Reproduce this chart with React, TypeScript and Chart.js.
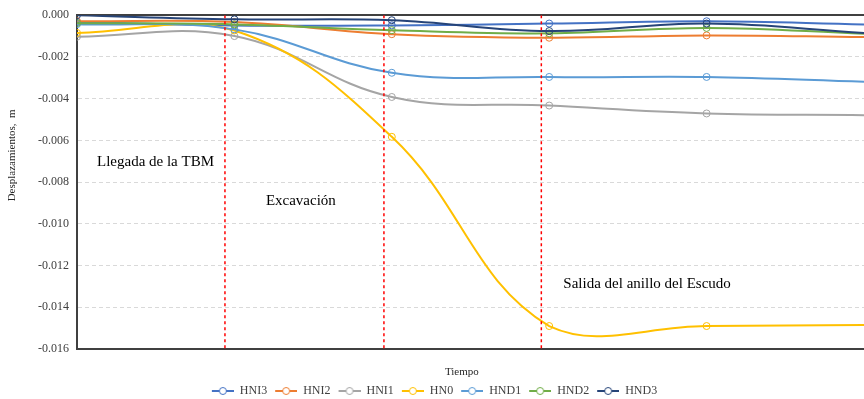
import React, { useEffect, useRef } from "react";
import { Chart, registerables } from "chart.js";

Chart.register(...registerables);

// ---- data ----
const timeSteps = [0, 1, 2, 3, 4, 5];
const seriesNames = ["HNI3", "HNI2", "HNI1", "HN0", "HND1", "HND2", "HND3"];
const seriesColors = ["#4472C4", "#ED7D31", "#A5A5A5", "#FFC000", "#5B9BD5", "#70AD47", "#264478"];
const HNI3 = [-0.00033, -0.00049, -0.00049, -0.0004, -0.00029, -0.00044];
const HNI2 = [-0.00029, -0.00033, -0.00091, -0.00108, -0.00097, -0.00105];
const HNI1 = [-0.00103, -0.001, -0.00392, -0.00433, -0.00471, -0.00479];
const HN0 = [-0.00085, -0.00073, -0.00583, -0.0149, -0.0149, -0.01485];
const HND1 = [-0.00043, -0.00068, -0.00276, -0.00296, -0.00296, -0.00319];
const HND2 = [-0.00038, -0.00044, -0.00072, -0.00087, -0.00061, -0.00089];
const HND3 = [0, -0.0002, -0.00024, -0.00076, -0.0004, -0.00085];
const seriesValues = [HNI3, HNI2, HNI1, HN0, HND1, HND2, HND3];

const phaseLines = [0.94, 1.95, 2.95];
const phaseLabels = ["Llegada de la TBM", "Excavación", "Salida del anillo del Escudo"];
const phaseLabelX = [0.127, 1.2, 3.09];
const phaseLabelY = [-0.00702, -0.00893, -0.01289];

const yTitle = "Desplazamientos,  m";
const xTitle = "Tiempo";

const yMin = -0.016;
const yMax = 0;
const yStep = 0.002;

const FONT = "'Liberation Serif', 'Times New Roman', serif";

function legendImage(color: string): HTMLCanvasElement {
  const c = document.createElement("canvas");
  c.width = 27;
  c.height = 10;
  const g = c.getContext("2d")!;
  g.strokeStyle = color;
  g.lineWidth = 2;
  g.beginPath();
  g.moveTo(5, 5);
  g.lineTo(27, 5);
  g.stroke();
  g.beginPath();
  g.arc(16, 5, 3.5, 0, Math.PI * 2);
  g.fillStyle = "#ffffff";
  g.fill();
  g.lineWidth = 1;
  g.stroke();
  return c;
}

const legendShiftPlugin = {
  id: "legendShift",
  afterLayout(chart: any) {
    const lg = chart.legend;
    if (!lg) return;
    const shift = 8;
    lg.top += shift;
    lg.bottom += shift;
    if (lg.legendHitBoxes) {
      lg.legendHitBoxes.forEach((h: any) => {
        h.top += shift;
      });
    }
  },
};

const textPlugin = {
  id: "phaseText",
  afterDatasetsDraw(chart: any) {
    const { ctx, scales, chartArea } = chart;
    ctx.save();
    ctx.font = `15px ${FONT}`;
    ctx.fillStyle = "#000000";
    ctx.textAlign = "left";
    ctx.textBaseline = "middle";
    phaseLabels.forEach((t, i) => {
      ctx.fillText(t, scales.x.getPixelForValue(phaseLabelX[i]), scales.y.getPixelForValue(phaseLabelY[i]));
    });
    ctx.restore();

    // axis titles
    ctx.save();
    ctx.font = `11px ${FONT}`;
    ctx.fillStyle = "#262626";
    ctx.textAlign = "center";
    ctx.textBaseline = "middle";
    ctx.fillText(xTitle, chartArea.left + (chartArea.right - chartArea.left) * 0.489, chartArea.bottom + 23);
    ctx.translate(12, chartArea.top + (chartArea.bottom - chartArea.top) * 0.42);
    ctx.rotate(-Math.PI / 2);
    ctx.fillText(yTitle, 0, 0);
    ctx.restore();
  },
};

export default function App() {
  const ref = useRef<HTMLCanvasElement | null>(null);

  useEffect(() => {
    if (!ref.current) return;
    Chart.defaults.font.family = FONT;
    const images = seriesColors.map(legendImage);

    const datasets: any[] = seriesNames.map((name, i) => ({
      label: name,
      data: timeSteps.map((t, k) => ({ x: t, y: seriesValues[i][k] })),
      borderColor: seriesColors[i],
      backgroundColor: seriesColors[i],
      borderWidth: 2,
      tension: 0.4,
      pointRadius: (c: any) => (c.dataIndex === timeSteps.length - 1 ? 0 : 3.5),
      pointBorderWidth: 1,
      pointBackgroundColor: "rgba(0,0,0,0)",
      pointBorderColor: seriesColors[i],
      order: 10 - i,
    }));
    phaseLines.forEach((px) => {
      datasets.push({
        label: "phase",
        data: [
          { x: px, y: yMax },
          { x: px, y: yMin },
        ],
        borderColor: "#FF0000",
        borderWidth: 1.5,
        borderDash: [3, 3],
        pointRadius: 0,
        tension: 0,
        order: 0,
      });
    });

    const chart = new Chart(ref.current, {
      type: "line",
      data: { datasets },
      options: {
        animation: false,
        responsive: true,
        maintainAspectRatio: false,
        layout: { autoPadding: false, padding: { top: 14, right: 0, left: 0, bottom: 0 } },
        plugins: {
          tooltip: { enabled: false },
          legend: {
            position: "bottom",
            labels: {
              font: { size: 12, family: FONT },
              color: "#404040",
              usePointStyle: true,
              pointStyleWidth: 27,
              boxHeight: 10,
              padding: 3,
              filter: (item: any) => item.datasetIndex < seriesNames.length,
              sort: (a: any, b: any) => a.datasetIndex - b.datasetIndex,
              generateLabels: (ch: any) => {
                const items = (Chart.defaults.plugins.legend.labels as any).generateLabels(ch);
                return items.map((it: any) => ({
                  ...it,
                  pointStyle: it.datasetIndex < images.length ? images[it.datasetIndex] : "line",
                  fontColor: "#404040",
                }));
              },
            },
          },
        },
        scales: {
          x: {
            type: "linear",
            min: 0,
            max: 5,
            ticks: { display: false },
            grid: { display: false, drawTicks: false },
            border: { display: true, color: "#404040", width: 2 },
            title: { display: false },
            afterFit: (s: any) => {
              const lh = s.chart.legend ? s.chart.legend.height : 18;
              s.height = Math.max(0, s.chart.height - 349 - lh);
            },
          },
          y: {
            min: yMin,
            max: yMax,
            ticks: {
              stepSize: yStep,
              callback: (v: any) => Number(v).toFixed(3),
              font: { size: 12, family: FONT },
              color: "#404040",
              padding: 8,
            },
            grid: {
              drawTicks: false,
              color: (c: any) => (c.tick && Math.abs(c.tick.value) < 1e-9 ? "#404040" : "#d9d9d9"),
              lineWidth: (c: any) => (c.tick && Math.abs(c.tick.value) < 1e-9 ? 2 : 1),
            },
            border: {
              display: true,
              color: "#404040",
              width: 2,
              dash: (c: any) => (c.tick && Math.abs(c.tick.value) > 1e-9 ? [4, 3] : []),
            },
            title: { display: false },
            afterFit: (s: any) => {
              s.width = 77;
            },
          },
        },
      },
      plugins: [textPlugin, legendShiftPlugin],
    });
    return () => chart.destroy();
  }, []);

  return (
    <div style={{ position: "absolute", left: 0, top: 0, width: 864, height: 399 }}>
      <canvas ref={ref} />
    </div>
  );
}
